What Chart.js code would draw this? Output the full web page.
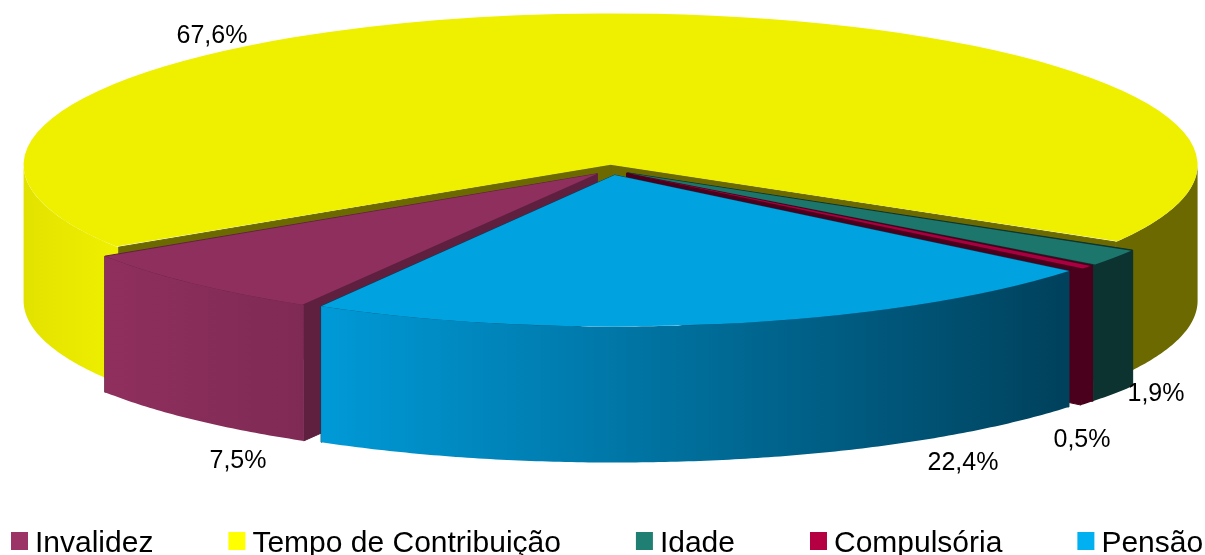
<!DOCTYPE html>
<html lang="pt">
<head>
<meta charset="utf-8">
<title>Aposentadorias e pensões</title>
<script src="https://cdn.jsdelivr.net/npm/chart.js@4"></script>
<style>
    html, body { margin: 0; padding: 0; background: #fff; overflow: hidden; }
    canvas { display: block; }
</style>
</head>
<body>
<canvas id="pie3d" width="1205" height="555"></canvas>
<script>
// Data
const categories = ['Invalidez', 'Tempo de Contribuição', 'Idade', 'Compulsória', 'Pensão'];
const shares = [7.5, 67.6, 1.9, 0.5, 22.4];

// Colors
const TOP_COLORS = ['#8f2f5e', '#efef00', '#1c766c', '#a80040', '#00a3e0'];
const LEGEND_COLORS = ['#9c3366', '#ffff00', '#1f7f72', '#b40042', '#00b0f0'];
const FACE_COLORS = ['#5f2040', '#6b6900', '#0c3330', '#4a001c', '#00415c'];
// Wall gradients, position runs across the pie from left to right
const WALL_STOPS = [
    [[0.07, '#8f2f5e'], [0.24, '#7f2a55']],
    [[0, '#e2e200'], [0.07, '#eeee00'], [0.3, '#eeee00'], [0.9, '#6b6900'], [1, '#6b6900']],
    [[0, '#0c3330'], [1, '#0c3330']],
    [[0, '#4a001c'], [1, '#4a001c']],
    [[0.25, '#009ad8'], [0.89, '#00415c']]
];

// Pie shape
const PIE_RADIUS = 587;
const SQUASH = 0.258;       // ellipse height / width
const WALL_HEIGHT = 136;
const START_ANGLE = 210;    // degrees from 12 o'clock, where Invalidez starts
const EXPLODE = 20;
const DRAW_ORDER = [1, 2, 3, 0, 4]; // back to front

// Text
const LABEL_FONT = '25px "Liberation Sans"';
const LEGEND_FONT = '30px "Liberation Sans"';
const LABEL_CENTERS = [[238, 461], [212, 36], [1156, 394], [1082, 440], [963, 463]];
const LEGEND_GAP = 75;

function formatShare(value) {
    return value.toFixed(1).replace('.', ',') + '%';
}

/**
 * Point on the rim of a slice, on the screen
 */
function rimPoint(arc, angle) {
    const mid = (arc.startAngle + arc.endAngle) / 2;
    return {
        x: arc.x + EXPLODE * Math.cos(mid) + PIE_RADIUS * Math.cos(angle),
        y: arc.y + (EXPLODE * Math.sin(mid) + PIE_RADIUS * Math.sin(angle)) * SQUASH
    };
}

function apexPoint(arc) {
    const mid = (arc.startAngle + arc.endAngle) / 2;
    return {
        x: arc.x + EXPLODE * Math.cos(mid),
        y: arc.y + EXPLODE * Math.sin(mid) * SQUASH
    };
}

function fillQuad(ctx, a, b, color) {
    ctx.fillStyle = color;
    ctx.strokeStyle = color;
    ctx.lineWidth = 1;
    ctx.beginPath();
    ctx.moveTo(a.x, a.y);
    ctx.lineTo(b.x, b.y);
    ctx.lineTo(b.x, b.y + WALL_HEIGHT);
    ctx.lineTo(a.x, a.y + WALL_HEIGHT);
    ctx.closePath();
    ctx.fill();
    ctx.stroke();
}

/**
 * Curved wall for the part of the rim that faces the viewer
 */
function drawRim(ctx, arc, index) {
    const gradient = ctx.createLinearGradient(arc.x - PIE_RADIUS, 0, arc.x + PIE_RADIUS, 0);
    WALL_STOPS[index].forEach(([pos, color]) => gradient.addColorStop(pos, color));

    for (let turn = -1; turn <= 2; turn++) {
        const from = Math.max(arc.startAngle, turn * Math.PI * 2);
        const to = Math.min(arc.endAngle, turn * Math.PI * 2 + Math.PI);
        if (to <= from) continue;

        const steps = Math.ceil((to - from) / 0.01);
        const top = [];
        for (let i = 0; i <= steps; i++) {
            top.push(rimPoint(arc, from + ((to - from) * i) / steps));
        }
        ctx.fillStyle = gradient;
        ctx.beginPath();
        top.forEach((p, i) => (i ? ctx.lineTo(p.x, p.y) : ctx.moveTo(p.x, p.y)));
        top.reverse().forEach(p => ctx.lineTo(p.x, p.y + WALL_HEIGHT));
        ctx.closePath();
        ctx.fill();
    }
}

function drawWalls(ctx, arcs) {
    DRAW_ORDER.forEach(index => {
        const arc = arcs[index];
        const apex = apexPoint(arc);
        fillQuad(ctx, apex, rimPoint(arc, arc.startAngle), FACE_COLORS[index]);
        fillQuad(ctx, apex, rimPoint(arc, arc.endAngle), FACE_COLORS[index]);
        drawRim(ctx, arc, index);
    });
}

function drawLabels(ctx) {
    ctx.font = LABEL_FONT;
    ctx.fillStyle = '#000';
    ctx.textAlign = 'center';
    ctx.textBaseline = 'middle';
    shares.forEach((value, i) => {
        ctx.fillText(formatShare(value), LABEL_CENTERS[i][0], LABEL_CENTERS[i][1]);
    });
}

// The built in legend wraps when the padding is this wide, so it is laid out here
function drawLegend(ctx) {
    ctx.font = LEGEND_FONT;
    ctx.textAlign = 'left';
    ctx.textBaseline = 'alphabetic';
    let x = 11;
    categories.forEach((name, i) => {
        ctx.fillStyle = LEGEND_COLORS[i];
        ctx.fillRect(x, 532, 17, 18);
        ctx.fillStyle = '#000';
        ctx.fillText(name, x + 24, 552);
        x += 24 + ctx.measureText(name).width + LEGEND_GAP;
    });
}

const pie3dPlugin = {
    id: 'pie3d',
    afterDatasetUpdate(chart) {
        // ArcElement grows small slices by the offset, keep every rim on the same radius
        chart.getDatasetMeta(0).data.forEach(arc => {
            const fix = 1 - Math.sin(Math.min(Math.PI, arc.circumference));
            arc.outerRadius = PIE_RADIUS - (arc.options.offset / 4) * fix;
        });
    },
    beforeDatasetsDraw(chart) {
        const ctx = chart.ctx;
        const arcs = chart.getDatasetMeta(0).data;
        drawWalls(ctx, arcs);
        ctx.save();
        ctx.translate(arcs[0].x, arcs[0].y);
        ctx.scale(1, SQUASH);
        ctx.translate(-arcs[0].x, -arcs[0].y);
    },
    afterDatasetsDraw(chart) {
        chart.ctx.restore();
        drawLabels(chart.ctx);
        drawLegend(chart.ctx);
    }
};

new Chart(document.getElementById('pie3d'), {
    type: 'pie',
    data: {
        labels: categories,
        datasets: [{
            data: shares,
            backgroundColor: TOP_COLORS,
            borderWidth: 0,
            clip: false,
            offset: EXPLODE * 4
        }]
    },
    options: {
        responsive: false,
        animation: false,
        rotation: START_ANGLE,
        radius: PIE_RADIUS,
        layout: { padding: { left: 17, bottom: 215 } },
        plugins: {
            legend: { display: false },
            tooltip: { enabled: false }
        }
    },
    plugins: [pie3dPlugin]
});
</script>
</body>
</html>
